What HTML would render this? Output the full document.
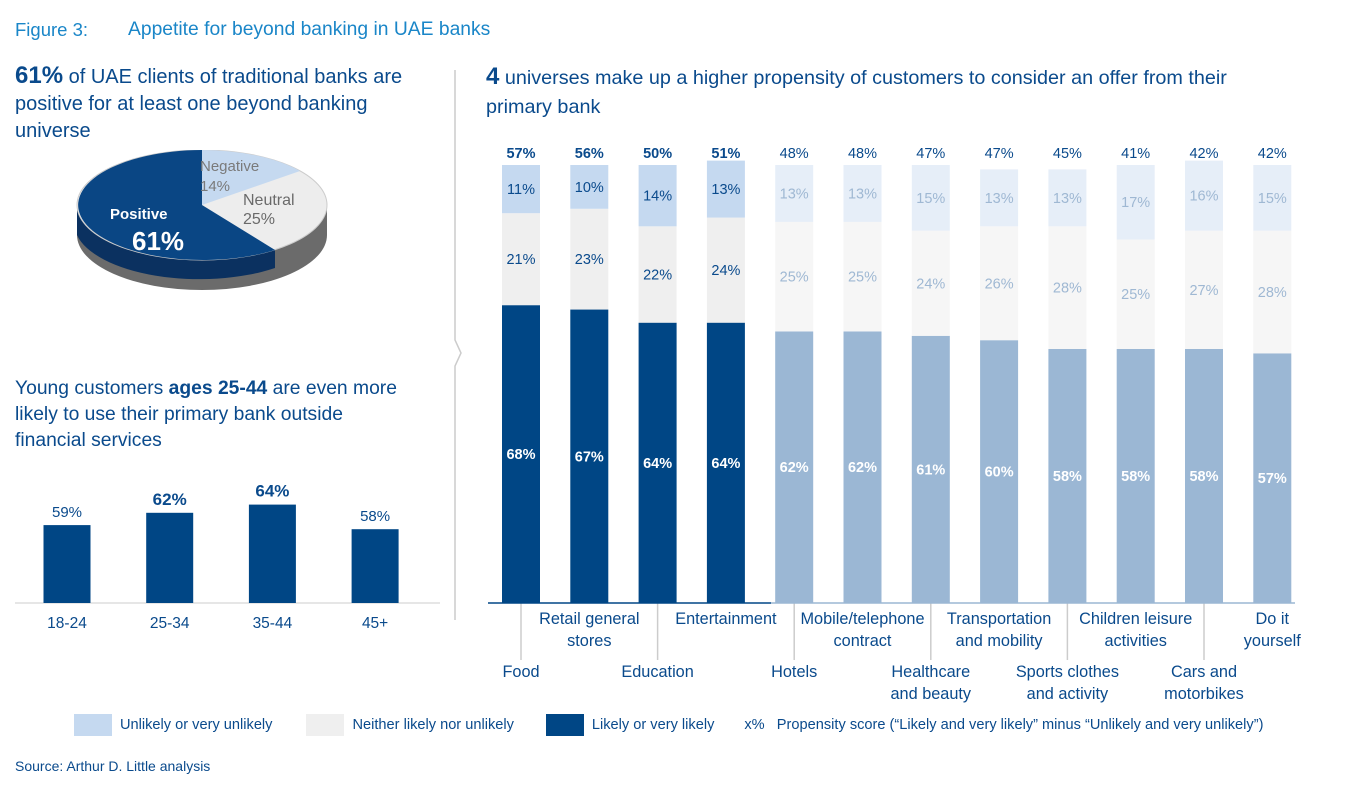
<!DOCTYPE html>
<html><head><meta charset="utf-8"><style>
body{margin:0;width:1362px;height:810px;background:#fff;font-family:"Liberation Sans",sans-serif;color:#0a4a8c;position:relative;overflow:hidden}
.t{position:absolute;white-space:nowrap}
</style></head><body>
<div class="t" style="left:15px;top:19px;font-size:18.5px;color:#1a86c8">Figure 3:</div>
<div class="t" style="left:128px;top:19px;font-size:19.3px;color:#1a86c8">Appetite for beyond banking in UAE banks</div>
<div class="t" style="left:15px;top:62px;font-size:20px;line-height:27px;color:#0a4a8c"><b style="font-size:24px">61%</b> of UAE clients of traditional banks are<br>positive for at least one beyond banking<br>universe</div>
<div class="t" style="left:486px;top:62px;font-size:19.8px;line-height:29px"><b style="font-size:24px">4</b> universes make up a higher propensity of customers to consider an offer from their<br>primary bank</div>
<div class="t" style="left:15px;top:376px;font-size:19.3px;line-height:26px">Young customers <b>ages 25-44</b> are even more<br>likely to use their primary bank outside<br>financial services</div>
<svg style="position:absolute;left:70px;top:150px" width="260" height="140">
<path d="M7,55 L7,85 A125,55 0 0 0 257,85 L257,55 Z" fill="#6b6b6b"/>
<path d="M7,55 L7,85 A125,55 0 0 0 205,118 L205,88 A125,55 0 0 1 7,55Z" fill="#0b3160"/>
<ellipse cx="132" cy="55" rx="125" ry="55" fill="#ededed" stroke="#ccc"/>
<path d="M132,55 L132,0 A125,55 0 0 1 230,21 Z" fill="#c5d9f0"/>
<path d="M132,55 L205,100 A125,55 0 1 1 132,0 Z" fill="#0a4684"/>
<text x="130" y="21" font-size="15" fill="#7a7a7a">Negative</text><text x="130" y="41" font-size="15" fill="#7a7a7a">14%</text>
<text x="173" y="55" font-size="16" fill="#6a6a6a">Neutral</text><text x="173" y="74" font-size="16" fill="#6a6a6a">25%</text>
<text x="40" y="69" font-size="15" fill="#fff" font-weight="bold">Positive</text><text x="62" y="100" font-size="26" fill="#fff" font-weight="bold">61%</text>
</svg>
<svg id="age" style="position:absolute;left:0;top:0" width="460" height="640"></svg>
<svg style="position:absolute;left:448px;top:70px" width="20" height="560"><path d="M7,0 V270 L13,283 L7,296 V550" stroke="#ccc" fill="none" stroke-width="1.5"/></svg>
<svg id="main" style="position:absolute;left:0;top:0" width="1362" height="720"></svg>
<div style="position:absolute;left:74px;top:714px;font-size:14.6px;display:flex;align-items:center;height:22px;color:#0a4a8c">
<span style="width:38px;height:22px;background:#c5d9f0;display:inline-block;margin-right:8px"></span>Unlikely or very unlikely
<span style="width:38px;height:22px;background:#efefef;display:inline-block;margin:0 8px 0 34px"></span>Neither likely nor unlikely
<span style="width:38px;height:22px;background:#004685;display:inline-block;margin:0 8px 0 32px"></span>Likely or very likely
<span style="margin-left:30px">x%&nbsp;&nbsp;&nbsp;Propensity score (“Likely and very likely” minus “Unlikely and very unlikely”)</span></div>
<div class="t" style="left:15px;top:758px;font-size:14px">Source: Arthur D. Little analysis</div>
<script>
const NS="http://www.w3.org/2000/svg";
function mk(p,t,a,txt){const e=document.createElementNS(NS,t);for(const k in a)e.setAttribute(k,a[k]);if(txt!=null)e.textContent=txt;p.appendChild(e);return e;}
const ageCats=["18-24","25-34","35-44","45+"];
const ageVals=[59,62,64,58];
const ageBold=[false,true,true,false];
const cats=[["Food"],["Retail general","stores"],["Education"],["Entertainment"],["Hotels"],["Mobile/telephone","contract"],["Healthcare","and beauty"],["Transportation","and mobility"],["Sports clothes","and activity"],["Children leisure","activities"],["Cars and","motorbikes"],["Do it","yourself"]];
const likely=[68,67,64,64,62,62,61,60,58,58,58,57];
const neutral=[21,23,22,24,25,25,24,26,28,25,27,28];
const unlikely=[11,10,14,13,13,13,15,13,13,17,16,15];
const scores=[57,56,50,51,48,48,47,47,45,41,42,42];
const ag=document.getElementById('age');
const aBase=603,ay=v=>aBase-(v-40)*4.1,ax=i=>67+i*102.7;
mk(ag,'line',{x1:15,x2:440,y1:aBase,y2:aBase,stroke:'#ccc'});
ageVals.forEach((v,i)=>{
 const r=mk(ag,'rect',{x:ax(i)-23.5,y:ay(v),width:47,height:aBase-ay(v),fill:'#004685'});
 
 
 mk(ag,'text',{x:ax(i),y:ay(v)-8,'text-anchor':'middle','font-size':ageBold[i]?17:15,'font-weight':ageBold[i]?'bold':'normal',fill:'#0a4a8c'},v+'%');
 mk(ag,'text',{x:ax(i),y:628,'text-anchor':'middle','font-size':15.5,fill:'#0a4a8c'},ageCats[i]);
});
const m=document.getElementById('main');
const base=603,sc=4.38,cx=i=>521+i*68.3,bw=38;
cats.forEach((c,i)=>{
 const hi=i<4;
 const cols=hi?['#004685','#efefef','#c5d9f0']:['#9bb7d4','#f6f6f6','#e6eef8'];
 const tcols=hi?['#fff','#0a4a8c','#0a4a8c']:['#fff','#9fb8d3','#9fb8d3'];
 let y=base;
 [likely[i],neutral[i],unlikely[i]].forEach((v,k)=>{
  const h=v*sc;
  const r=mk(m,'rect',{x:cx(i)-bw/2,y:y-h,width:bw,height:h,fill:cols[k]});
  
  
  mk(m,'text',{x:cx(i),y:y-h/2+5,'text-anchor':'middle','font-size':14.5,'font-weight':k==0?'bold':'normal',fill:tcols[k]},v+'%');
  y-=h;
 });
 mk(m,'text',{x:cx(i),y:158,'text-anchor':'middle','font-size':14.5,'font-weight':hi?'bold':'normal',fill:'#0a4a8c'},scores[i]+'%');
 const low=i%2==0;
 if(low) mk(m,'line',{x1:cx(i),x2:cx(i),y1:base,y2:660,stroke:'#ccc','stroke-width':1.5});
 c.forEach((l,j)=>mk(m,'text',{x:cx(i),y:(low?677:624)+j*22,'text-anchor':'middle','font-size':16.3,fill:'#0a4a8c'},l));
});
mk(m,'line',{x1:488,x2:771,y1:base,y2:base,stroke:'#004685','stroke-width':1.5});
mk(m,'line',{x1:771,x2:1295,y1:base,y2:base,stroke:'#9bb7d4','stroke-width':1.5});
</script>
</body></html>
